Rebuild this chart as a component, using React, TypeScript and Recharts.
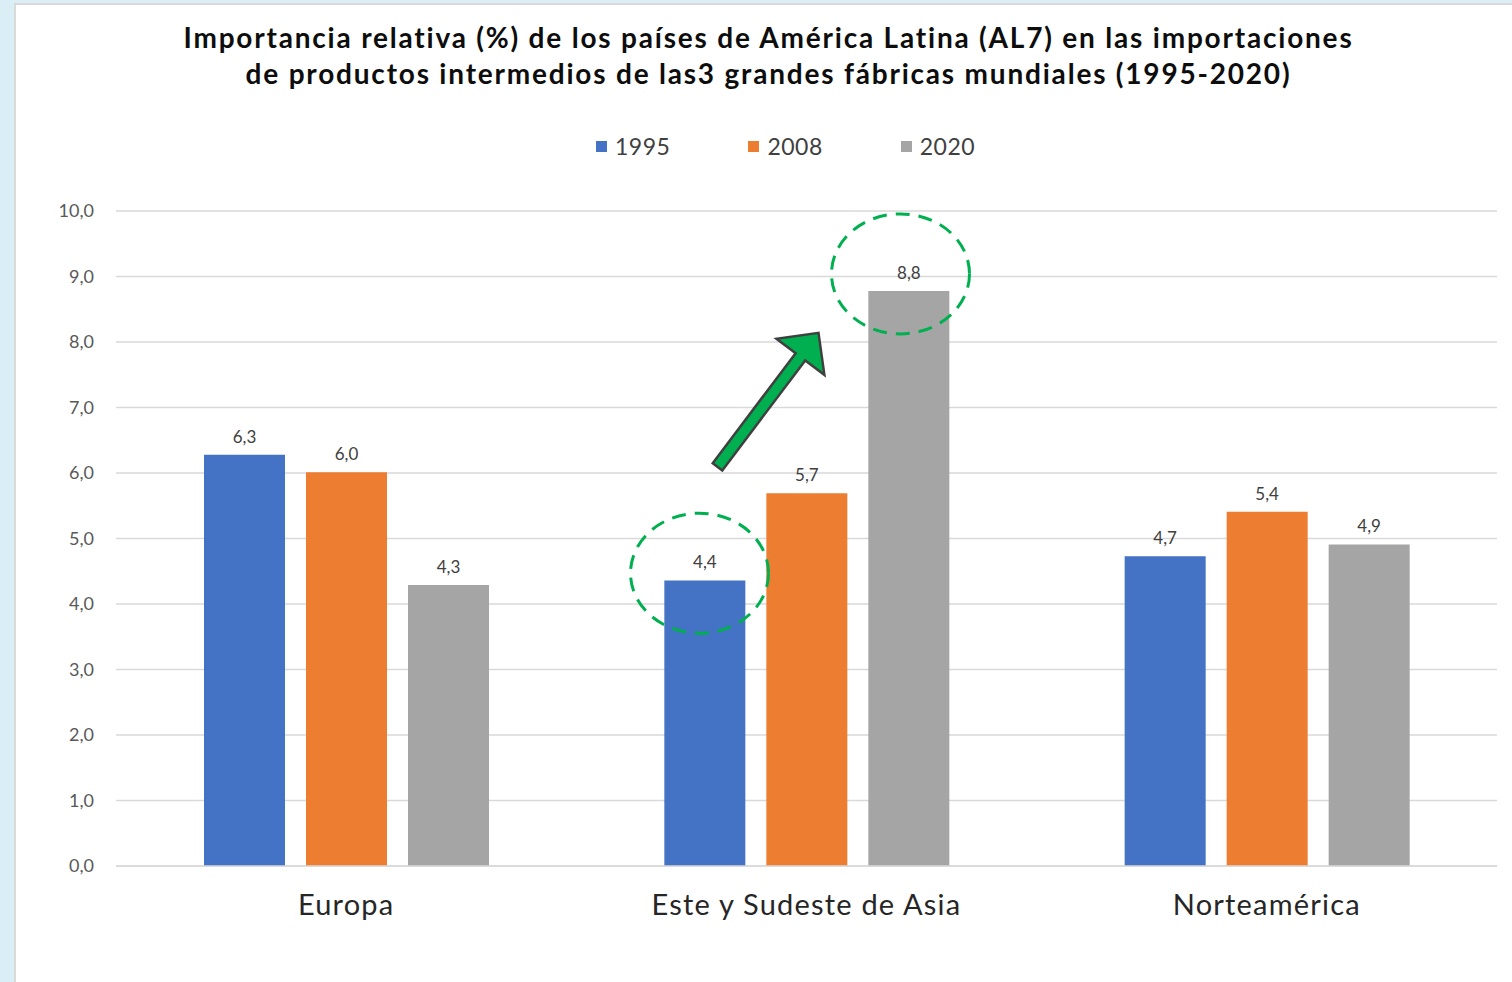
import { BarChart, Bar, XAxis, YAxis, CartesianGrid, Legend, LabelList, ReferenceDot } from 'recharts';

// categorías y series
const REGIONS = ['Europa', 'Este y Sudeste de Asia', 'Norteamérica'];
const V1995 = [6.28, 4.36, 4.73];
const V2008 = [6.01, 5.69, 5.41];
const V2020 = [4.29, 8.78, 4.91];
const Y_TICKS = [0, 1, 2, 3, 4, 5, 6, 7, 8, 9, 10];

const SERIES = [
  { key: 'y1995', name: '1995', color: '#4472C4' },
  { key: 'y2008', name: '2008', color: '#ED7D31' },
  { key: 'y2020', name: '2020', color: '#A5A5A5' },
];

const data = REGIONS.map((region, i) => ({
  region,
  y1995: V1995[i],
  y2008: V2008[i],
  y2020: V2020[i],
}));

const FONT = 'Lato, "Open Sans", sans-serif';
const GREEN = '#00B050';

const fmt = (v: number) => v.toFixed(1).replace('.', ',');

// anotaciones (elipses punteadas y flecha)
const Ellipse = ({ cx, cy, dx }: any) => (
  <ellipse
    cx={cx + dx}
    cy={cy}
    rx={69}
    ry={60}
    fill="none"
    stroke={GREEN}
    strokeWidth={3}
    strokeDasharray="14 9"
  />
);

const Arrow = ({ cx, cy }: any) => {
  const tipX = cx + 12;
  const tipY = cy;
  const tailX = tipX - 101;
  const tailY = tipY + 134;
  const len = Math.hypot(tipX - tailX, tipY - tailY);
  const ux = (tipX - tailX) / len;
  const uy = (tipY - tailY) / len;
  const nx = -uy;
  const ny = ux;
  const hw = 6; // medio ancho del cuerpo
  const headLen = 30;
  const headW = 30;
  const bx = tipX - ux * headLen;
  const by = tipY - uy * headLen;
  const pts = [
    [tailX + nx * hw, tailY + ny * hw],
    [bx + nx * hw, by + ny * hw],
    [bx + nx * headW, by + ny * headW],
    [tipX, tipY],
    [bx - nx * headW, by - ny * headW],
    [bx - nx * hw, by - ny * hw],
    [tailX - nx * hw, tailY - ny * hw],
  ];
  return (
    <polygon
      points={pts.map((p) => p.join(',')).join(' ')}
      fill={GREEN}
      stroke="#404040"
      strokeWidth={2.5}
      strokeLinejoin="miter"
    />
  );
};

const LegendContent = () => (
  <div style={{ display: 'flex', gap: 78, fontFamily: FONT, fontSize: 23, color: '#404040' }}>
    {SERIES.map((s) => (
      <div key={s.key} style={{ display: 'flex', alignItems: 'center', gap: 8 }}>
        <span style={{ width: 11, height: 11, background: s.color, display: 'inline-block' }} />
        <span style={{ letterSpacing: 0.5 }}>{s.name}</span>
      </div>
    ))}
  </div>
);

export default function App() {
  return (
    <div
      style={{
        position: 'fixed',
        top: 0,
        left: 0,
        width: 1512,
        height: 982,
        background: '#DAEEF5',
      }}
    >
      <div
        style={{
          position: 'absolute',
          left: 14,
          top: 3,
          width: 1496,
          height: 977,
          background: '#fff',
          borderLeft: '2px solid #D9D9D9',
          borderTop: '2px solid #D9D9D9',
        }}
      >
        <div
          style={{
            position: 'absolute',
            left: 0,
            top: 14,
            width: 1496,
            paddingLeft: 9,
            boxSizing: 'border-box',
            textAlign: 'center',
            fontFamily: FONT,
            fontWeight: 700,
            fontSize: 28,
            letterSpacing: 1.8,
            lineHeight: '36px',
            color: '#0D0D0D',
          }}
        >
          Importancia relativa (%) de los países de América Latina (AL7) en las importaciones
          <br />
          de productos intermedios de las3 grandes fábricas mundiales (1995-2020)
        </div>
        <BarChart
          width={1496}
          height={977}
          data={data}
          margin={{ top: 206, right: 15, left: 0, bottom: 56 }}
          barSize={81}
          barGap={21}
          style={{ fontFamily: FONT }}
        >
          <CartesianGrid vertical={false} stroke="#D9D9D9" strokeWidth={1.5} />
          <XAxis
            dataKey="region"
            height={60}
            tickLine={false}
            axisLine={{ stroke: '#D9D9D9', strokeWidth: 1.5 }}
            tickMargin={22}
            tick={{ fill: '#262626', fontSize: 29, fontFamily: FONT, letterSpacing: 1.2 }}
          />
          <YAxis
            width={100}
            domain={[0, 10]}
            ticks={Y_TICKS}
            tickFormatter={(v: number) => fmt(v)}
            tickLine={false}
            axisLine={false}
            tickMargin={16}
            tick={{ fill: '#595959', fontSize: 18, fontFamily: FONT }}
          />
          <Legend
            verticalAlign="middle"
            align="center"
            layout="horizontal"
            wrapperStyle={{ top: 127, left: 580, width: 'auto' }}
            content={<LegendContent />}
          />
          {SERIES.map((s) => (
            <Bar key={s.key} dataKey={s.key} name={s.name} fill={s.color} isAnimationActive={false}>
              <LabelList
                dataKey={s.key}
                position="top"
                offset={12}
                formatter={(v: any) => fmt(Number(v))}
                style={{ fill: '#404040', fontSize: 17, fontFamily: FONT }}
              />
            </Bar>
          ))}
          <ReferenceDot
            x="Este y Sudeste de Asia"
            y={9.04}
            ifOverflow="visible"
            shape={(p: any) => <Ellipse {...p} dx={94} />}
          />
          <ReferenceDot
            x="Este y Sudeste de Asia"
            y={4.47}
            ifOverflow="visible"
            shape={(p: any) => <Ellipse {...p} dx={-107} />}
          />
          <ReferenceDot
            x="Este y Sudeste de Asia"
            y={8.14}
            ifOverflow="visible"
            shape={(p: any) => <Arrow {...p} />}
          />
        </BarChart>
      </div>
    </div>
  );
}
